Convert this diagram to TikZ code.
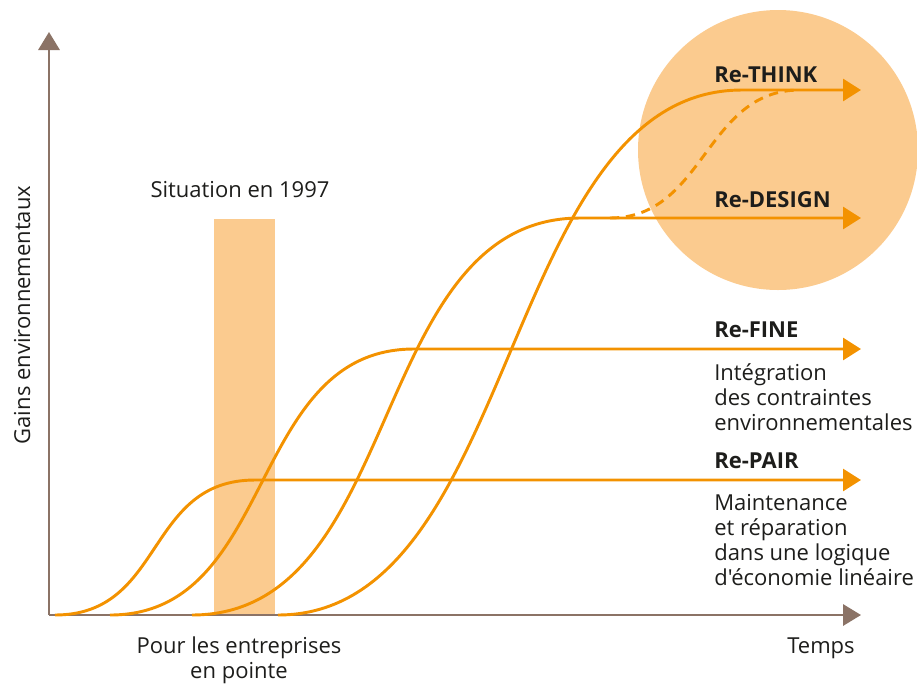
\documentclass[tikz,border=0pt]{standalone}
\usepackage{fontspec}
\setmainfont{Open Sans}[Ligatures=TeXOff]
\usetikzlibrary{arrows.meta}
\definecolor{orangeline}{HTML}{F39200}
\definecolor{softorange}{HTML}{FBCB8F}
\definecolor{axiscol}{HTML}{8B7366}
\definecolor{txt}{HTML}{1D1D1B}
\tikzset{
  oline/.style={draw=orangeline, line width=2.2pt},
  otip/.style={-{Triangle[length=13.5pt,width=16.5pt]}},
  axisline/.style={draw=axiscol, line width=1.6pt, -{Triangle[length=13.5pt,width=16pt]}},
  lbl/.style={inner sep=0pt, text=txt, font=\fontsize{16.5}{18.75}\selectfont},
  boldlbl/.style={lbl, font=\fontsize{16.5}{18.75}\selectfont\bfseries},
}
\begin{document}
\begin{tikzpicture}[x=0.75pt,y=-0.75pt]
\useasboundingbox (0,0) rectangle (917,683);
% backgrounds
\fill[softorange] (778,150) circle[radius=140];
\fill[softorange] (214,219) rectangle (275,615);
% axes
\coordinate (O) at (49,615);
\coordinate (ytop) at (49,32);
\coordinate (xend) at (861,615);
\draw[axisline] (O) -- (ytop);
\draw[axisline] (O) -- (xend);
% curve coordinates
\coordinate (s1) at (55,615);  \coordinate (e1) at (255,480); \coordinate (t1) at (861,480);
\coordinate (s2) at (110,615); \coordinate (e2) at (414,349); \coordinate (t2) at (861,349);
\coordinate (s3) at (192,615); \coordinate (e3) at (580,218); \coordinate (t3) at (861,218);
\coordinate (s4) at (278,615); \coordinate (e4) at (742,90);  \coordinate (t4) at (861,90);
\coordinate (ds) at (610,218); \coordinate (de) at (800,90);
% curves
\draw[oline,otip] (s1) .. controls (165,615) and (145,480) .. (e1) -- (t1);
\draw[oline,otip] (s2) .. controls (277,615) and (247,349) .. (e2) -- (t2);
\draw[oline,otip] (s3) .. controls (405,615) and (367,218) .. (e3) -- (t3);
\draw[oline,otip] (s4) .. controls (519,615) and (501,90) .. (e4) -- (t4);
\draw[oline,dashed,dash pattern=on 7pt off 5pt] (ds) .. controls (705,218) and (705,90) .. (de);
% labels
\node[boldlbl,anchor=base west] (think) at (714,82) {Re-THINK};
\node[boldlbl,anchor=base west] (design) at (714,207) {Re-DESIGN};
\node[boldlbl,anchor=base west] (fine) at (714,337) {Re-FINE};
\node[lbl,anchor=base west,align=left] (finetxt) at (714,430) {Intégration\\des contraintes\\environnementales};
\node[boldlbl,anchor=base west] (pair) at (714,468) {Re-PAIR};
\node[lbl,anchor=base west,align=left] (pairtxt) at (714,585) {Maintenance\\et réparation\\dans une logique\\d'économie linéaire};
\node[lbl,anchor=base west] (temps) at (787,653) {Temps};
\node[lbl,anchor=base,align=center] (pour) at (239,678) {Pour les entreprises\\en pointe};
\node[lbl,anchor=base] (situation) at (240,197) {Situation en 1997};
\node[lbl,anchor=base,rotate=90] (gains) at (30,315) {Gains environnementaux};
\end{tikzpicture}
\end{document}
